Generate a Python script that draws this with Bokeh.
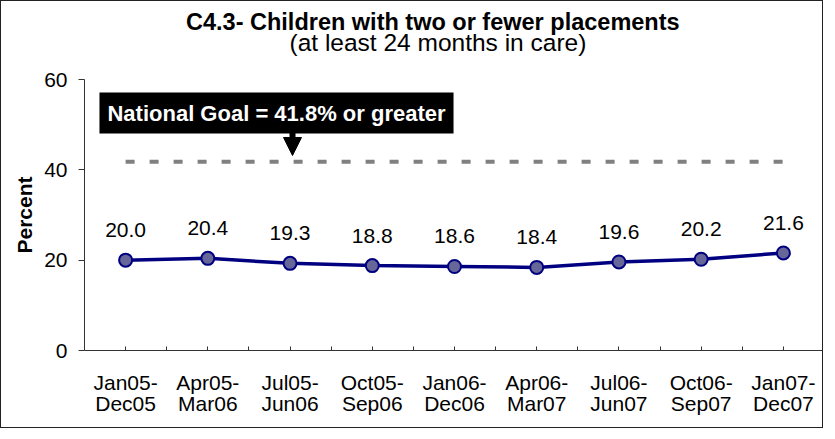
from bokeh.plotting import figure
from bokeh.models import Range1d, FixedTicker, Label, Arrow, NormalHead, Title
from bokeh.core.properties import value
from bokeh.embed import file_html
from bokeh.resources import INLINE

# ---- data ----
categories = ["Jan05-\nDec05", "Apr05-\nMar06", "Jul05-\nJun06", "Oct05-\nSep06",
              "Jan06-\nDec06", "Apr06-\nMar07", "Jul06-\nJun07", "Oct06-\nSep07",
              "Jan07-\nDec07"]
percent = [20.0, 20.4, 19.3, 18.8, 18.6, 18.4, 19.6, 20.2, 21.6]
national_goal = 41.8
y_ticks = [0, 20, 40, 60]
title_text = "C4.3- Children with two or fewer placements"
subtitle_text = "(at least 24 months in care)"
goal_text = "National Goal = 41.8% or greater"

FONT = "Liberation Sans"
AXIS_COLOR = "#333333"

n = len(categories)
xs = [i + 0.5 for i in range(n)]
labels = [f"{v:.1f}" for v in percent]

p = figure(width=823, height=428, output_backend="svg", toolbar_location=None,
           x_range=Range1d(0, n), y_range=Range1d(0, 60),
           min_border_left=83, min_border_right=0, min_border_top=78,
           min_border_bottom=79)
p.styles = {"border": "1px solid #222222"}
p.outline_line_color = None
p.xgrid.visible = False
p.ygrid.visible = False
p.background_fill_color = "white"
p.border_fill_color = "white"

# titles (subtitle first: later additions are placed further out)
p.add_layout(Title(text=subtitle_text, align="left", offset=205, standoff=47,
                   text_font=FONT, text_font_size="24.5px", text_font_style="normal",
                   text_color="black"), "above")
p.add_layout(Title(text=title_text, align="left", offset=101.5, standoff=-62.4,
                   text_font=FONT, text_font_size="23.5px", text_font_style="bold",
                   text_color="black"), "above")

# x axis
xa = p.xaxis[0]
xa.ticker = FixedTicker(ticks=xs, minor_ticks=[i for i in range(1, n)])
xa.major_label_overrides = {x: c for x, c in zip(xs, categories)}
xa.major_tick_in = 4
xa.major_tick_out = 0
xa.minor_tick_in = 4
xa.minor_tick_out = 0
xa.axis_line_color = AXIS_COLOR
xa.major_tick_line_color = AXIS_COLOR
xa.minor_tick_line_color = AXIS_COLOR
xa.major_label_text_font = FONT
xa.major_label_text_font_size = "21px"
xa.major_label_text_color = "black"
xa.major_label_text_line_height = 0.93
xa.major_label_standoff = 20

# y axis
ya = p.yaxis[0]
ya.ticker = FixedTicker(ticks=y_ticks)
ya.minor_tick_line_color = None
ya.major_tick_in = 0
ya.major_tick_out = 6
ya.axis_line_color = AXIS_COLOR
ya.major_tick_line_color = AXIS_COLOR
ya.major_label_text_font = FONT
ya.major_label_text_font_size = "21px"
ya.major_label_text_color = "black"
ya.major_label_standoff = 11
ya.axis_label = "Percent"
ya.axis_label_text_font = FONT
ya.axis_label_text_font_size = "21px"
ya.axis_label_text_font_style = "bold"
ya.axis_label_text_color = "black"
ya.axis_label_standoff = 5

# goal line
p.line(x=[xs[0], xs[-1]], y=[national_goal, national_goal], line_color="#808080",
       line_width=4, line_dash="9 15", line_cap="butt")

# series
p.line(x=xs, y=percent, line_color="#000080", line_width=3.5)
p.scatter(x=xs, y=percent, size=13, fill_color="#666699", line_color="#000080",
          line_width=2)
p.text(x=xs, y=percent, text=labels, text_align="center", text_baseline="alphabetic",
       y_offset=-30, text_font=value(FONT), text_font_size="21px", text_color="black")

# goal callout
p.add_layout(Label(x=192, y=237.5, x_units="screen", y_units="screen", text=goal_text,
                   text_align="center", text_baseline="middle", text_font=FONT,
                   text_font_size="22px", text_font_style="bold", text_color="white",
                   background_fill_color="black", padding=8))
p.add_layout(Arrow(x_start=208, y_start=218, x_end=208, y_end=195,
                   start_units="screen", end_units="screen",
                   line_color="black", line_width=6,
                   end=NormalHead(size=18, fill_color="black", line_color="black",
                                  line_width=1)))

open("out.html", "w").write(file_html(p, INLINE))
